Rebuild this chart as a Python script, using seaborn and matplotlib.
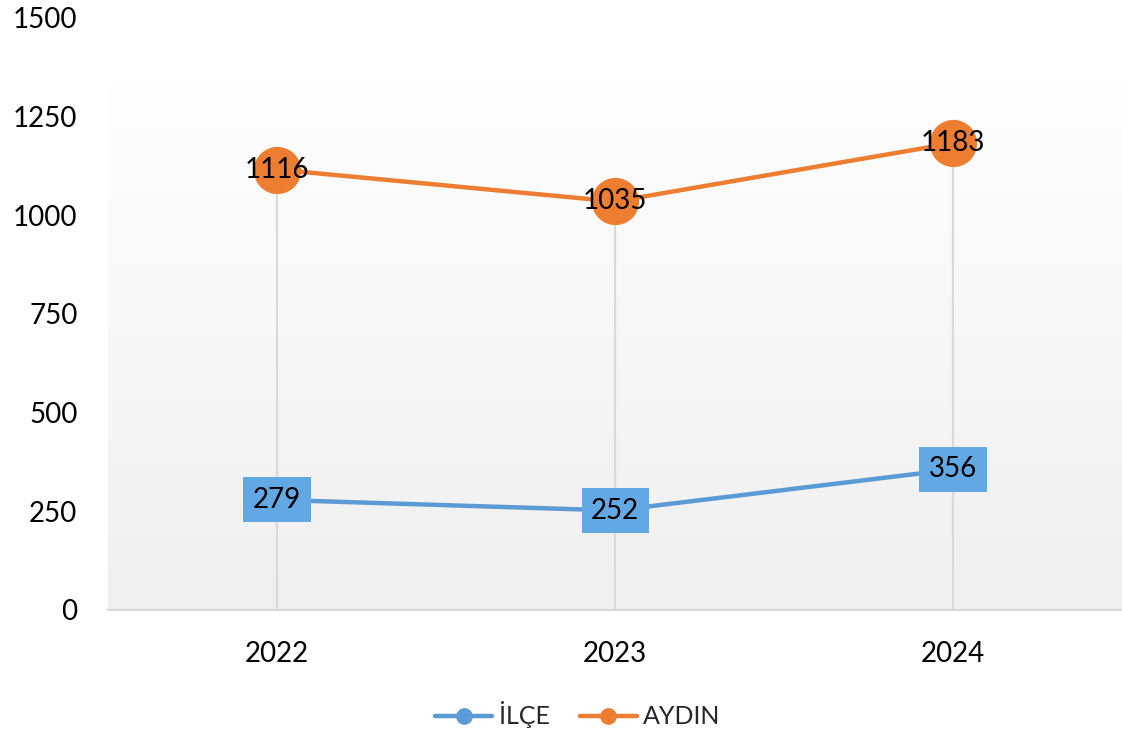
import numpy as np
import pandas as pd
import matplotlib
matplotlib.use("Agg")
import matplotlib.pyplot as plt
from matplotlib.lines import Line2D
import seaborn as sns

# ---- data ----
years = ["2022", "2023", "2024"]
ilce = [279, 252, 356]
aydin = [1116, 1035, 1183]
series_names = ["İLÇE", "AYDIN"]
y_ticks = [0, 250, 500, 750, 1000, 1250, 1500]

BLUE = "#5b9bd5"
BLUE_BOX = "#62a8e5"
ORANGE = "#ed7d31"

sns.set_theme(style="white")
plt.rcParams["font.family"] = ["Lato", "DejaVu Sans"]

fig = plt.figure(figsize=(11.22, 7.34), dpi=100)
ax = fig.add_axes([0.0963, 0.169, 0.9037, 0.8065])

df = pd.DataFrame({"year": years * 2,
                   "value": ilce + aydin,
                   "series": [series_names[0]] * 3 + [series_names[1]] * 3})

# gradient plot area background (white at top -> light gray at bottom)
grad_top = 1330
grad = np.linspace(0.937, 0.997, 256).reshape(-1, 1)
ax.imshow(np.dstack([grad] * 3), extent=[-0.5, 2.5, 0, grad_top], origin="lower",
          aspect="auto", zorder=0, interpolation="bicubic")

# drop lines
xs = np.arange(len(years))
tops = [max(a, b) for a, b in zip(ilce, aydin)]
ax.vlines(xs, 0, tops, color="#d9d9d9", lw=1.5, zorder=1)

sns.lineplot(data=df[df.series == series_names[0]], x="year", y="value", ax=ax,
             color=BLUE, lw=3.2, marker="o", markersize=10, markeredgewidth=0,
             sort=False, zorder=3, legend=False)
sns.lineplot(data=df[df.series == series_names[1]], x="year", y="value", ax=ax,
             color=ORANGE, lw=3.2, marker="o", markersize=34, markeredgewidth=0,
             sort=False, zorder=3, legend=False)

# data labels
for x, v in zip(xs, ilce):
    ax.text(x, v, str(v), ha="center", va="center", fontsize=20, color="black", zorder=5,
            bbox=dict(boxstyle="square,pad=0.34", fc=BLUE_BOX, ec="none"))
for x, v in zip(xs, aydin):
    ax.text(x, v, str(v), ha="center", va="center", fontsize=20, color="black", zorder=5)

ax.set_xlim(-0.5, 2.5)
ax.set_ylim(0, 1500)
ax.set_yticks(y_ticks)
ax.set_yticklabels([str(t) for t in y_ticks])
ax.set_xticks(xs)
ax.set_xticklabels(years)
ax.tick_params(axis="both", length=0, labelsize=20, colors="black")
ax.tick_params(axis="x", pad=22)
ax.tick_params(axis="y", pad=22)
ax.set_xlabel("")
ax.set_ylabel("")
ax.set_facecolor("white")
for s in ["top", "right", "left"]:
    ax.spines[s].set_visible(False)
ax.spines["bottom"].set_color("#d9d9d9")
ax.spines["bottom"].set_linewidth(1.5)
ax.grid(False)

handles = [Line2D([0], [0], color=BLUE, lw=3.2, marker="o", markersize=11),
           Line2D([0], [0], color=ORANGE, lw=3.2, marker="o", markersize=11)]
fig.legend(handles, series_names, loc="center", bbox_to_anchor=(0.515, 0.026),
           ncol=2, frameon=False, fontsize=18, handlelength=2.3, handletextpad=0.25,
           columnspacing=1.2)

fig.savefig("out.png", dpi=100)
